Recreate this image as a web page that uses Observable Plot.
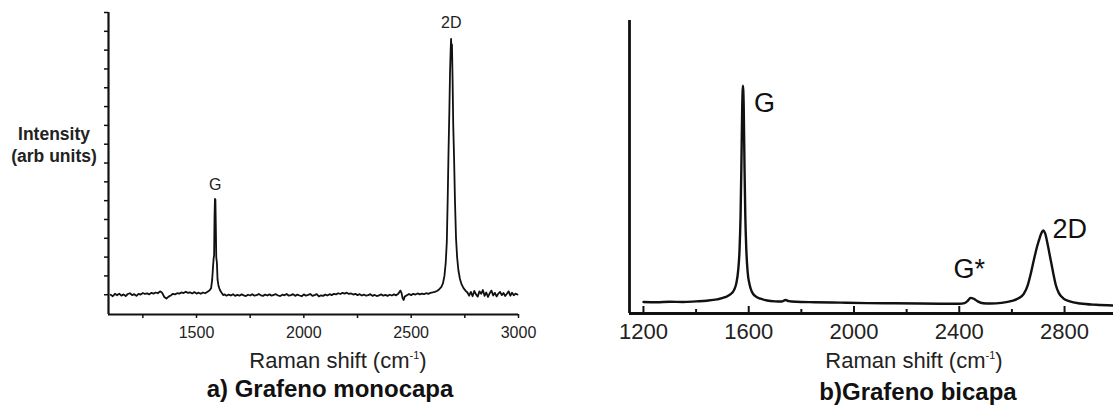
<!DOCTYPE html>
<html>
<head>
<meta charset="utf-8">
<script src="https://cdn.jsdelivr.net/npm/d3@7"></script>
<script src="https://cdn.jsdelivr.net/npm/@observablehq/plot@0.6"></script>
<style>
  html, body { margin: 0; padding: 0; background: #fff; }
  body { position: relative; width: 1113px; height: 414px; overflow: hidden; font-family: "Liberation Sans", Arial, Helvetica, sans-serif; }
  .abs { position: absolute; white-space: nowrap; }
  .axtitle { font-size: 22px; line-height: 22px; color: #222; transform: translateX(-50%); }
  .axtitle sup { font-size: 11px; vertical-align: 9px; line-height: 0; }
  .caption { font-size: 24px; line-height: 24px; font-weight: bold; color: #111; transform: translateX(-50%); }
  .ylab { font-size: 17.5px; line-height: 22px; font-weight: bold; color: #222; text-align: center; transform: translateX(-50%); }
</style>
</head>
<body>
<div id="left" class="abs" style="left:0;top:0;width:540px;height:345px"></div>
<div id="right" class="abs" style="left:560px;top:0;width:553px;height:345px"></div>
<div class="abs ylab" style="left:54px;top:123px">Intensity<br>(arb units)</div>
<div class="abs axtitle" style="left:338px;top:350px">Raman shift (cm<sup>-1</sup>)</div>
<div class="abs axtitle" style="left:914px;top:350px">Raman shift (cm<sup>-1</sup>)</div>
<div class="abs caption" style="left:330px;top:377px">a) Grafeno monocapa</div>
<div class="abs caption" style="left:918px;top:380px">b)Grafeno bicapa</div>
<script>
// ---------- (a) monolayer graphene spectrum ----------
const monoShift = [
  1100,1110,1120,1130,1140,1150,1160,1170,1180,1190,1200,1210,1220,1230,1240,1250,1260,1270,1280,1290,
  1300,1310,1320,1330,1340,1350,1360,1370,1380,1390,1400,1410,1420,1430,1440,1450,1460,1470,1480,1490,
  1500,1510,1520,1530,1540,1550,1560,1568,1573,1577,1580,1582,1584,1586,1588,1590,1592,1595,1598,1603,
  1609,1616,1625,1630,1640,1650,1660,1670,1680,1690,1700,1710,1720,1730,1740,1750,1760,1770,1780,1790,
  1800,1810,1820,1830,1840,1850,1860,1870,1880,1890,1900,1910,1920,1930,1940,1950,1960,1970,1980,1990,
  2000,2010,2020,2030,2040,2050,2060,2070,2080,2090,2100,2110,2120,2130,2140,2150,2160,2170,2180,2190,
  2200,2210,2220,2230,2240,2250,2260,2270,2280,2290,2300,2310,2320,2330,2340,2350,2360,2370,2380,2390,
  2400,2410,2420,2430,2440,2450,2455,2460,2465,2470,2480,2490,2500,2510,2520,2530,2540,2550,2560,2570,
  2580,2590,2600,2610,2620,2630,2640,2648,2655,2661,2666,2670,2674,2678,2681,2684,2686,2688,2690,2693,
  2696,2700,2704,2709,2714,2720,2727,2735,2744,2753,2762,2770,2778,2786,2794,2802,2810,2818,2826,2834,
  2842,2850,2858,2866,2874,2882,2890,2898,2906,2914,2922,2930,2938,2946,2954,2962,2970,2978,2986,2995
];
const monoIntensity = [
  0.00,-0.08,0.05,-0.03,0.06,-0.05,0.02,-0.07,0.04,0.08,-0.02,0.03,-0.06,0.05,0.01,0.09,0.04,0.07,0.02,0.10,
  0.06,0.12,0.08,0.18,0.10,-0.12,-0.20,-0.10,-0.04,0.05,0.02,0.08,0.06,0.12,0.09,0.16,0.10,0.13,0.07,0.14,
  0.06,0.11,0.05,0.12,0.08,0.15,0.22,0.35,0.80,1.50,1.95,2.10,4.20,5.10,5.05,3.60,2.00,1.70,0.80,0.45,
  0.25,0.12,-0.02,0.02,-0.05,0.01,-0.04,0.03,-0.06,-0.01,-0.05,0.02,-0.03,-0.07,0.00,-0.04,0.03,-0.05,-0.02,0.04,
  -0.03,-0.06,0.01,-0.04,0.02,-0.05,-0.01,0.03,-0.04,-0.07,0.00,-0.03,0.04,-0.05,-0.02,0.03,-0.06,0.01,-0.04,-0.08,
  0.02,-0.05,-0.01,0.04,-0.06,-0.02,0.03,-0.09,-0.03,-0.06,0.01,-0.04,0.03,-0.02,0.05,0.02,0.08,0.04,0.10,0.06,
  0.11,0.04,0.07,0.01,0.05,-0.02,0.03,-0.04,0.01,-0.05,-0.02,0.03,-0.06,-0.01,-0.07,-0.03,0.02,-0.05,-0.01,-0.06,
  0.00,-0.04,0.02,-0.03,0.05,0.22,0.10,-0.18,-0.28,-0.10,-0.03,0.04,-0.02,0.05,0.01,0.07,0.02,0.06,0.03,0.08,
  0.05,0.10,0.12,0.15,0.20,0.28,0.40,0.60,1.00,1.70,2.80,5.00,7.60,9.80,11.80,13.00,13.60,12.70,13.30,11.40,
  9.00,7.20,5.00,3.00,2.00,1.30,0.85,0.55,0.35,0.22,0.12,-0.05,0.15,-0.08,0.20,0.02,-0.10,0.18,0.05,0.25,
  -0.06,0.12,-0.12,0.08,0.22,-0.04,0.10,-0.09,0.06,0.15,-0.02,0.09,-0.07,0.05,0.18,-0.05,0.11,-0.03,0.06,0.01
];
const monoPeakNames  = ["G", "2D"];
const monoPeakShift  = [1587, 2687];
const monoPeakHeight = [5.1, 13.6];
const monoMajorTicks = [1500, 2000, 2500, 3000];
const monoMinorTicks = [1250, 1750, 2250, 2750];
const monoYTicks = [0,1,2,3,4,5,6,7,8,9,10,11,12,13,14,15];
const monoXDomain = [1090, 3000];
const monoYDomain = [-1.05, 15];

// ---------- (b) bilayer graphene spectrum ----------
const biShift = [
  1200,1250,1300,1350,1400,1440,1480,1510,1530,1545,1553,1560,1565,1569,1572,1575,1578,1581,1584,1587,
  1591,1596,1603,1612,1625,1645,1670,1700,1725,1740,1752,1780,1850,1950,2050,2150,2250,2350,2400,2420,
  2432,2443,2455,2470,2490,2520,2560,2600,2625,2645,2660,2672,2684,2696,2706,2714,2720,2726,2734,2742,
  2750,2758,2767,2778,2795,2820,2860,2920,2985
];
const biIntensity = [
  0.003,0.002,0.004,0.003,0.006,0.009,0.015,0.025,0.038,0.06,0.09,0.15,0.24,0.40,0.62,0.88,1.00,0.90,0.62,0.40,
  0.24,0.14,0.085,0.05,0.03,0.018,0.010,0.006,0.005,0.012,0.007,0.004,0.002,0.000,-0.002,-0.003,-0.004,-0.005,-0.005,-0.002,
  0.008,0.022,0.018,0.006,-0.003,-0.004,-0.001,0.008,0.02,0.04,0.08,0.135,0.20,0.26,0.30,0.325,0.333,0.32,0.28,0.23,
  0.18,0.13,0.08,0.045,0.02,0.006,-0.004,-0.010,-0.013
];
const biPeakNames  = ["G", "G*", "2D"];
const biPeakShift  = [1578, 2443, 2720];
const biPeakHeight = [1.0, 0.022, 0.333];
const biMajorTicks = [1200, 1600, 2000, 2400, 2800];
const biMinorTicks = [1400, 1800, 2200, 2600];
const biXDomain = [1147, 2986];
const biYDomain = [-0.05, 1.30];

const fontFamily = "'Liberation Sans', Arial, Helvetica, sans-serif";
const fmt = d => String(d);
const blank = () => "";

// ---------- left chart ----------
const monoLabels = monoPeakNames.map((n, i) => ({name: n, x: monoPeakShift[i], y: monoPeakHeight[i]}));
const left = Plot.plot({
  width: 540, height: 345,
  marginLeft: 108, marginRight: 22, marginTop: 12, marginBottom: 31,
  style: {fontFamily, fontSize: "16px", color: "#111", background: "transparent", overflow: "visible"},
  x: {domain: monoXDomain, label: null},
  y: {domain: monoYDomain, label: null},
  marks: [
    Plot.axisX(monoMajorTicks, {tickSize: 4, strokeWidth: 1.5, tickFormat: blank, label: null}),
    Plot.axisX(monoMinorTicks, {tickSize: 4, strokeWidth: 1.5, tickFormat: blank, label: null}),
    Plot.axisX(monoMajorTicks, {tickSize: 0, tickPadding: 12, tickFormat: fmt, label: null, fontSize: 16, fill: "#222"}),
    Plot.axisY(monoYTicks, {tickSize: 4, strokeWidth: 1.5, tickFormat: blank, label: null}),
    Plot.ruleY([monoYDomain[0]], {stroke: "#111", strokeWidth: 2.2}),
    Plot.ruleX([monoXDomain[0]], {stroke: "#111", strokeWidth: 2.2}),
    Plot.line(monoShift, {x: monoShift, y: monoIntensity, stroke: "#111", strokeWidth: 1.8, strokeLinejoin: "round"}),
    Plot.text(monoLabels.filter(d => d.name === "G"), {x: "x", y: "y", text: "name", dy: -14, fontSize: 16, fill: "#222"}),
    Plot.text(monoLabels.filter(d => d.name === "2D"), {x: "x", y: "y", text: "name", dy: -16, fontSize: 16, fill: "#222"})
  ]
});
document.getElementById("left").appendChild(left);

// ---------- right chart ----------
const biLabels = biPeakNames.map((n, i) => ({name: n, x: biPeakShift[i], y: biPeakHeight[i]}));
const right = Plot.plot({
  width: 553, height: 345,
  marginLeft: 69, marginRight: 0, marginTop: 20, marginBottom: 32,
  style: {fontFamily, fontSize: "22px", color: "#111", background: "transparent", overflow: "visible"},
  x: {domain: biXDomain, label: null},
  y: {domain: biYDomain, label: null, axis: null},
  marks: [
    Plot.axisX(biMajorTicks, {tickSize: -7, strokeWidth: 2, tickFormat: blank, label: null}),
    Plot.axisX(biMinorTicks, {tickSize: -4, strokeWidth: 2, tickFormat: blank, label: null}),
    Plot.axisX(biMajorTicks, {tickSize: 0, tickPadding: 10, tickFormat: fmt, label: null, fontSize: 22, fill: "#222"}),
    Plot.ruleY([biYDomain[0]], {stroke: "#111", strokeWidth: 2.8}),
    Plot.ruleX([biXDomain[0]], {stroke: "#111", strokeWidth: 2.8}),
    Plot.line(biShift, {x: biShift, y: biIntensity, stroke: "#111", strokeWidth: 2.4, strokeLinejoin: "round", curve: "monotone-x"}),
    Plot.text(biLabels.filter(d => d.name === "G"), {x: "x", y: "y", text: "name", textAnchor: "start", dx: 11, dy: 18, fontSize: 27, fill: "#111"}),
    Plot.text(biLabels.filter(d => d.name === "G*"), {x: "x", y: "y", text: "name", textAnchor: "start", dx: -17, dy: -29, fontSize: 27, fill: "#111"}),
    Plot.text(biLabels.filter(d => d.name === "2D"), {x: "x", y: "y", text: "name", textAnchor: "start", dx: 9, dy: -1, fontSize: 27, fill: "#111"})
  ]
});
document.getElementById("right").appendChild(right);
</script>
</body>
</html>
